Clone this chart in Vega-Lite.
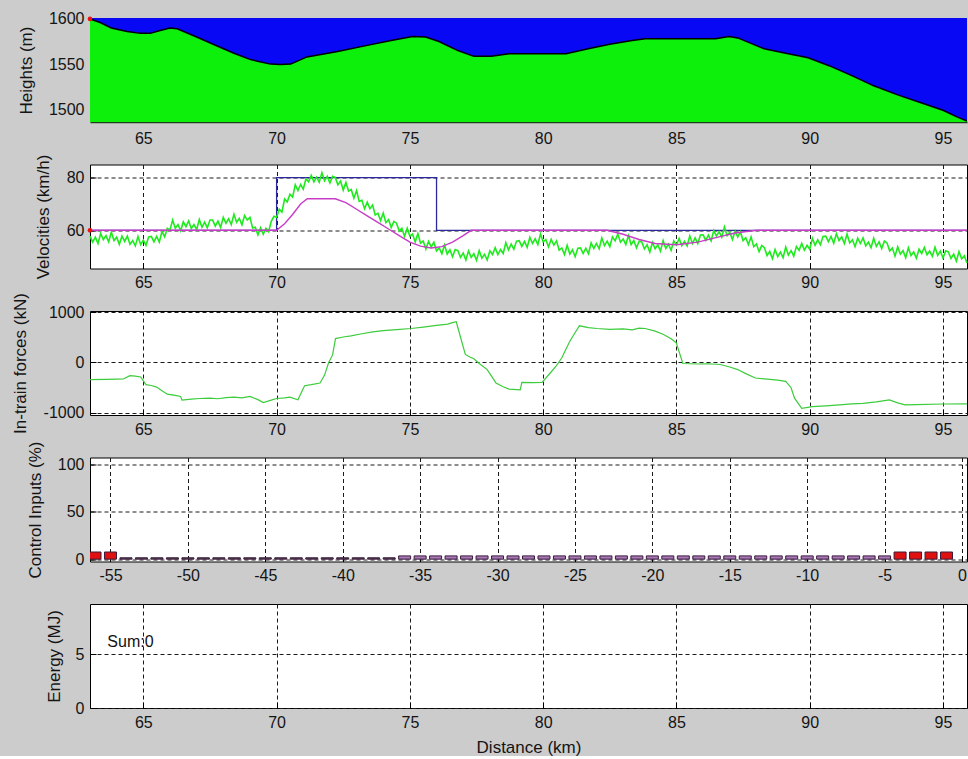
{
  "$schema": "https://vega.github.io/schema/vega-lite/v6.json",
  "background": "#cccccc",
  "padding": {"left": 10, "top": 10, "right": 0, "bottom": 0},
  "config": {
    "font": "Liberation Sans",
    "view": {"stroke": "#000000", "strokeWidth": 1, "fill": "#ffffff"},
    "axis": {
      "labelFont": "Liberation Sans", "labelFontSize": 16, "labelColor": "#141414",
      "titleFont": "Liberation Sans", "titleFontSize": 17, "titleFontWeight": "normal", "titleColor": "#141414",
      "domain": false, "grid": true, "gridColor": "#1a1a1a", "gridDash": [4, 3], "gridOpacity": 1, "gridWidth": 1,
      "ticks": true, "tickColor": "#000000", "tickSize": -6, "labelPadding": 12
    }
  },
  "datasets": {
    "terrain": [
      {"km": 63.0, "h": 1600}, {"km": 63.38, "h": 1596}, {"km": 63.8, "h": 1590}, {"km": 64.39, "h": 1586},
      {"km": 64.89, "h": 1584}, {"km": 65.26, "h": 1584}, {"km": 65.6, "h": 1587}, {"km": 66.0, "h": 1590},
      {"km": 66.27, "h": 1589}, {"km": 67.0, "h": 1580}, {"km": 67.77, "h": 1570}, {"km": 68.4, "h": 1562},
      {"km": 69.02, "h": 1555}, {"km": 69.77, "h": 1550}, {"km": 70.15, "h": 1549.5}, {"km": 70.53, "h": 1550},
      {"km": 71.14, "h": 1558}, {"km": 72.29, "h": 1564}, {"km": 73.45, "h": 1571}, {"km": 74.3, "h": 1576},
      {"km": 75.1, "h": 1580.5}, {"km": 75.59, "h": 1580}, {"km": 76.09, "h": 1575}, {"km": 76.8, "h": 1565},
      {"km": 77.4, "h": 1558.6}, {"km": 78.06, "h": 1558.6}, {"km": 78.72, "h": 1561.5}, {"km": 80.86, "h": 1561.5},
      {"km": 81.69, "h": 1567}, {"km": 82.5, "h": 1572}, {"km": 83.34, "h": 1576}, {"km": 83.83, "h": 1578},
      {"km": 86.47, "h": 1578}, {"km": 86.97, "h": 1580.5}, {"km": 87.3, "h": 1579}, {"km": 88.29, "h": 1567},
      {"km": 89.1, "h": 1562}, {"km": 89.94, "h": 1557}, {"km": 90.75, "h": 1548}, {"km": 91.6, "h": 1537},
      {"km": 92.4, "h": 1526}, {"km": 93.3, "h": 1516}, {"km": 94.2, "h": 1507}, {"km": 95.0, "h": 1499},
      {"km": 95.5, "h": 1492}, {"km": 95.9, "h": 1487}
    ],
    "speed": [
      {"km":63.0,"v":57.8},{"km":63.1,"v":55.5},{"km":63.2,"v":57.4},{"km":63.3,"v":55.0},{"km":63.4,"v":58.8},{"km":63.5,"v":56.5},{"km":63.6,"v":58.0},{"km":63.7,"v":55.6},{"km":63.8,"v":59.3},{"km":63.9,"v":56.1},
      {"km":64.0,"v":57.4},{"km":64.1,"v":54.7},{"km":64.2,"v":57.8},{"km":64.3,"v":55.8},{"km":64.4,"v":57.8},{"km":64.5,"v":54.7},{"km":64.6,"v":56.1},{"km":64.7,"v":54.1},{"km":64.8,"v":57.7},{"km":64.9,"v":54.6},
      {"km":65.0,"v":56.3},{"km":65.1,"v":54.3},{"km":65.2,"v":57.5},{"km":65.3,"v":57.7},{"km":65.4,"v":55.6},{"km":65.5,"v":57.7},{"km":65.6,"v":55.5},{"km":65.7,"v":59.6},{"km":65.8,"v":57.5},{"km":65.9,"v":60.8},
      {"km":66.0,"v":60.1},{"km":66.1,"v":63.9},{"km":66.2,"v":60.8},{"km":66.3,"v":62.2},{"km":66.4,"v":59.8},{"km":66.5,"v":63.2},{"km":66.6,"v":61.4},{"km":66.7,"v":63.6},{"km":66.8,"v":60.7},{"km":66.9,"v":62.2},
      {"km":67.0,"v":60.3},{"km":67.1,"v":64.1},{"km":67.2,"v":61.2},{"km":67.3,"v":63.1},{"km":67.4,"v":60.9},{"km":67.5,"v":63.9},{"km":67.6,"v":63.9},{"km":67.7,"v":61.6},{"km":67.8,"v":63.5},{"km":67.9,"v":61.1},
      {"km":68.0,"v":64.9},{"km":68.1,"v":62.7},{"km":68.2,"v":64.4},{"km":68.3,"v":62.2},{"km":68.4,"v":66.1},{"km":68.5,"v":63.1},{"km":68.6,"v":64.5},{"km":68.7,"v":62.1},{"km":68.8,"v":65.6},{"km":68.9,"v":63.9},
      {"km":69.0,"v":64.9},{"km":69.1,"v":60.9},{"km":69.2,"v":61.2},{"km":69.3,"v":58.3},{"km":69.4,"v":61.0},{"km":69.5,"v":58.5},{"km":69.6,"v":60.8},{"km":69.7,"v":59.5},{"km":69.8,"v":63.4},{"km":69.9,"v":65.3},
      {"km":70.0,"v":64.9},{"km":70.1,"v":68.0},{"km":70.2,"v":66.9},{"km":70.3,"v":71.9},{"km":70.4,"v":70.8},{"km":70.5,"v":73.7},{"km":70.6,"v":72.6},{"km":70.7,"v":77.3},{"km":70.8,"v":75.1},{"km":70.9,"v":77.4},
      {"km":71.0,"v":75.6},{"km":71.1,"v":79.5},{"km":71.2,"v":78.4},{"km":71.3,"v":80.9},{"km":71.4,"v":78.4},{"km":71.5,"v":80.2},{"km":71.6,"v":78.3},{"km":71.7,"v":81.9},{"km":71.8,"v":78.8},{"km":71.9,"v":80.5},
      {"km":72.0,"v":78.0},{"km":72.1,"v":80.5},{"km":72.2,"v":80.1},{"km":72.3,"v":77.3},{"km":72.4,"v":78.7},{"km":72.5,"v":75.3},{"km":72.6,"v":78.2},{"km":72.7,"v":74.9},{"km":72.8,"v":75.5},{"km":72.9,"v":72.2},
      {"km":73.0,"v":75.1},{"km":73.1,"v":71.0},{"km":73.2,"v":71.4},{"km":73.3,"v":68.2},{"km":73.4,"v":70.7},{"km":73.5,"v":68.2},{"km":73.6,"v":69.6},{"km":73.7,"v":65.8},{"km":73.8,"v":66.5},{"km":73.9,"v":63.7},
      {"km":74.0,"v":66.5},{"km":74.1,"v":62.9},{"km":74.2,"v":64.1},{"km":74.3,"v":61.1},{"km":74.4,"v":63.4},{"km":74.5,"v":62.7},{"km":74.6,"v":59.7},{"km":74.7,"v":60.8},{"km":74.8,"v":57.7},{"km":74.9,"v":60.8},
      {"km":75.0,"v":57.8},{"km":75.1,"v":58.6},{"km":75.2,"v":55.6},{"km":75.3,"v":58.8},{"km":75.4,"v":55.1},{"km":75.5,"v":55.9},{"km":75.6,"v":52.9},{"km":75.7,"v":55.8},{"km":75.8,"v":53.7},{"km":75.9,"v":55.5},
      {"km":76.0,"v":52.2},{"km":76.1,"v":53.3},{"km":76.2,"v":51.1},{"km":76.3,"v":54.4},{"km":76.4,"v":51.0},{"km":76.5,"v":52.6},{"km":76.6,"v":50.0},{"km":76.7,"v":52.7},{"km":76.8,"v":52.3},{"km":76.9,"v":49.7},
      {"km":77.0,"v":51.4},{"km":77.1,"v":48.7},{"km":77.2,"v":52.2},{"km":77.3,"v":49.7},{"km":77.4,"v":51.1},{"km":77.5,"v":48.6},{"km":77.6,"v":52.3},{"km":77.7,"v":49.4},{"km":77.8,"v":50.9},{"km":77.9,"v":48.7},
      {"km":78.0,"v":52.2},{"km":78.1,"v":50.8},{"km":78.2,"v":53.4},{"km":78.3,"v":50.8},{"km":78.4,"v":52.7},{"km":78.5,"v":51.2},{"km":78.6,"v":55.3},{"km":78.7,"v":52.6},{"km":78.8,"v":54.8},{"km":78.9,"v":52.8},
      {"km":79.0,"v":55.9},{"km":79.1,"v":56.1},{"km":79.2,"v":53.9},{"km":79.3,"v":55.8},{"km":79.4,"v":53.5},{"km":79.5,"v":57.3},{"km":79.6,"v":55.0},{"km":79.7,"v":56.8},{"km":79.8,"v":54.6},{"km":79.9,"v":58.6},
      {"km":80.0,"v":55.6},{"km":80.1,"v":56.5},{"km":80.2,"v":53.7},{"km":80.3,"v":56.6},{"km":80.4,"v":54.4},{"km":80.5,"v":56.0},{"km":80.6,"v":52.5},{"km":80.7,"v":53.3},{"km":80.8,"v":50.8},{"km":80.9,"v":54.3},
      {"km":81.0,"v":51.0},{"km":81.1,"v":52.6},{"km":81.2,"v":50.0},{"km":81.3,"v":53.2},{"km":81.4,"v":53.3},{"km":81.5,"v":51.2},{"km":81.6,"v":53.2},{"km":81.7,"v":51.1},{"km":81.8,"v":55.2},{"km":81.9,"v":53.1},
      {"km":82.0,"v":55.0},{"km":82.1,"v":53.0},{"km":82.2,"v":57.1},{"km":82.3,"v":54.2},{"km":82.4,"v":55.9},{"km":82.5,"v":53.8},{"km":82.6,"v":57.5},{"km":82.7,"v":56.0},{"km":82.8,"v":58.6},{"km":82.9,"v":55.5},
      {"km":83.0,"v":56.7},{"km":83.1,"v":54.6},{"km":83.2,"v":58.0},{"km":83.3,"v":54.6},{"km":83.4,"v":56.1},{"km":83.5,"v":53.4},{"km":83.6,"v":55.9},{"km":83.7,"v":55.6},{"km":83.8,"v":52.9},{"km":83.9,"v":54.5},
      {"km":84.0,"v":51.7},{"km":84.1,"v":55.4},{"km":84.2,"v":53.0},{"km":84.3,"v":54.5},{"km":84.4,"v":52.1},{"km":84.5,"v":56.1},{"km":84.6,"v":53.1},{"km":84.7,"v":54.7},{"km":84.8,"v":52.4},{"km":84.9,"v":56.0},
      {"km":85.0,"v":54.4},{"km":85.1,"v":56.9},{"km":85.2,"v":54.2},{"km":85.3,"v":55.8},{"km":85.4,"v":54.1},{"km":85.5,"v":57.9},{"km":85.6,"v":55.0},{"km":85.7,"v":57.1},{"km":85.8,"v":55.0},{"km":85.9,"v":58.2},
      {"km":86.0,"v":58.3},{"km":86.1,"v":56.2},{"km":86.2,"v":58.2},{"km":86.3,"v":56.0},{"km":86.4,"v":59.9},{"km":86.5,"v":57.8},{"km":86.6,"v":59.5},{"km":86.7,"v":57.4},{"km":86.8,"v":61.3},{"km":86.9,"v":58.0},
      {"km":87.0,"v":59.2},{"km":87.1,"v":56.5},{"km":87.2,"v":59.7},{"km":87.3,"v":57.5},{"km":87.4,"v":59.4},{"km":87.5,"v":56.1},{"km":87.6,"v":57.2},{"km":87.7,"v":54.6},{"km":87.8,"v":57.5},{"km":87.9,"v":53.8},
      {"km":88.0,"v":54.8},{"km":88.1,"v":51.9},{"km":88.2,"v":54.2},{"km":88.3,"v":53.4},{"km":88.4,"v":50.4},{"km":88.5,"v":52.0},{"km":88.6,"v":49.2},{"km":88.7,"v":52.7},{"km":88.8,"v":50.0},{"km":88.9,"v":51.8},
      {"km":89.0,"v":49.6},{"km":89.1,"v":53.6},{"km":89.2,"v":50.6},{"km":89.3,"v":52.3},{"km":89.4,"v":50.2},{"km":89.5,"v":53.8},{"km":89.6,"v":52.4},{"km":89.7,"v":55.0},{"km":89.8,"v":52.5},{"km":89.9,"v":54.3},
      {"km":90.0,"v":52.8},{"km":90.1,"v":56.9},{"km":90.2,"v":54.3},{"km":90.3,"v":56.4},{"km":90.4,"v":54.5},{"km":90.5,"v":57.7},{"km":90.6,"v":57.8},{"km":90.7,"v":55.7},{"km":90.8,"v":57.7},{"km":90.9,"v":55.1},
      {"km":91.0,"v":58.7},{"km":91.1,"v":56.1},{"km":91.2,"v":57.5},{"km":91.3,"v":55.0},{"km":91.4,"v":58.6},{"km":91.5,"v":55.2},{"km":91.6,"v":56.4},{"km":91.7,"v":53.8},{"km":91.8,"v":57.0},{"km":91.9,"v":55.0},
      {"km":92.0,"v":57.1},{"km":92.1,"v":54.1},{"km":92.2,"v":55.5},{"km":92.3,"v":53.4},{"km":92.4,"v":57.0},{"km":92.5,"v":53.9},{"km":92.6,"v":55.6},{"km":92.7,"v":53.1},{"km":92.8,"v":55.9},{"km":92.9,"v":55.2},
      {"km":93.0,"v":52.2},{"km":93.1,"v":53.3},{"km":93.2,"v":50.2},{"km":93.3,"v":53.7},{"km":93.4,"v":51.0},{"km":93.5,"v":52.3},{"km":93.6,"v":49.6},{"km":93.7,"v":53.4},{"km":93.8,"v":50.4},{"km":93.9,"v":51.8},
      {"km":94.0,"v":49.4},{"km":94.1,"v":52.8},{"km":94.2,"v":51.2},{"km":94.3,"v":53.5},{"km":94.4,"v":50.7},{"km":94.5,"v":52.1},{"km":94.6,"v":50.1},{"km":94.7,"v":53.6},{"km":94.8,"v":50.5},{"km":94.9,"v":52.1},
      {"km":95.0,"v":49.5},{"km":95.1,"v":52.2},{"km":95.2,"v":51.8},{"km":95.3,"v":49.3},{"km":95.4,"v":51.0},{"km":95.5,"v":48.3},{"km":95.6,"v":51.9},{"km":95.7,"v":49.2},{"km":95.8,"v":50.3},{"km":95.9,"v":47.6}
    ],
    "advice": [
      {"km": 63, "v": 60}, {"km": 70, "v": 60}, {"km": 70.3, "v": 62.5}, {"km": 70.6, "v": 66}, {"km": 70.9, "v": 70},
      {"km": 71.15, "v": 72}, {"km": 72.2, "v": 72}, {"km": 72.6, "v": 70.5}, {"km": 73.0, "v": 68}, {"km": 73.4, "v": 65.5},
      {"km": 73.8, "v": 63}, {"km": 74.2, "v": 60.5}, {"km": 74.6, "v": 58}, {"km": 75.0, "v": 55.5}, {"km": 75.4, "v": 54},
      {"km": 75.8, "v": 53.3}, {"km": 76.2, "v": 53.8}, {"km": 76.6, "v": 55.5}, {"km": 77.0, "v": 58}, {"km": 77.3, "v": 60},
      {"km": 82.4, "v": 60}, {"km": 83.0, "v": 58.5}, {"km": 83.6, "v": 56.5}, {"km": 84.2, "v": 55}, {"km": 85.0, "v": 54.5},
      {"km": 85.8, "v": 55.5}, {"km": 86.6, "v": 57.5}, {"km": 87.2, "v": 59}, {"km": 88.0, "v": 60}, {"km": 95.9, "v": 60}
    ],
    "limit": [
      {"km": 63, "v": 60}, {"km": 70, "v": 60}, {"km": 70, "v": 80}, {"km": 76, "v": 80}, {"km": 76, "v": 60}, {"km": 95.9, "v": 60}
    ],
    "grade": [
      {"km": 65.3, "km2": 70.0}, {"km": 75.1, "km2": 76.2}, {"km": 77.8, "km2": 78.5}, {"km": 79.5, "km2": 80.9},
      {"km": 82.2, "km2": 84.7}, {"km": 85.0, "km2": 88.0}, {"km": 90.0, "km2": 92.9}
    ],
    "force": [
      {"km":63.0,"f":-340},{"km":63.6,"f":-335},{"km":64.0,"f":-330},{"km":64.25,"f":-327},{"km":64.5,"f":-260},{"km":64.7,"f":-270},
      {"km":64.9,"f":-287},{"km":65.1,"f":-440},{"km":65.3,"f":-455},{"km":65.5,"f":-487},{"km":65.7,"f":-560},{"km":65.9,"f":-627},
      {"km":66.2,"f":-650},{"km":66.4,"f":-673},{"km":66.45,"f":-745},{"km":66.8,"f":-725},{"km":67.1,"f":-713},{"km":67.5,"f":-705},
      {"km":67.8,"f":-718},{"km":68.1,"f":-695},{"km":68.4,"f":-687},{"km":68.7,"f":-700},{"km":69.0,"f":-673},{"km":69.3,"f":-735},
      {"km":69.5,"f":-793},{"km":69.8,"f":-745},{"km":70.0,"f":-713},{"km":70.3,"f":-700},{"km":70.5,"f":-687},{"km":70.8,"f":-740},
      {"km":71.05,"f":-460},{"km":71.3,"f":-440},{"km":71.63,"f":-407},{"km":71.8,"f":-250},{"km":71.95,"f":-7},{"km":72.1,"f":150},
      {"km":72.21,"f":473},{"km":72.5,"f":505},{"km":72.79,"f":527},{"km":73.2,"f":570},{"km":73.61,"f":607},{"km":74.0,"f":630},
      {"km":74.5,"f":650},{"km":75.04,"f":673},{"km":75.5,"f":700},{"km":76.0,"f":735},{"km":76.42,"f":760},{"km":76.6,"f":790},
      {"km":76.74,"f":807},{"km":76.9,"f":500},{"km":77.08,"f":160},{"km":77.25,"f":110},{"km":77.4,"f":73},{"km":77.6,"f":-20},
      {"km":77.9,"f":-140},{"km":78.1,"f":-300},{"km":78.23,"f":-407},{"km":78.5,"f":-480},{"km":78.72,"f":-527},{"km":79.14,"f":-540},
      {"km":79.2,"f":-393},{"km":79.6,"f":-400},{"km":79.96,"f":-393},{"km":80.29,"f":-193},{"km":80.5,"f":-60},{"km":80.7,"f":93},
      {"km":81.0,"f":420},{"km":81.36,"f":727},{"km":81.7,"f":690},{"km":82.02,"f":673},{"km":82.5,"f":655},{"km":83.0,"f":665},
      {"km":83.34,"f":647},{"km":83.6,"f":680},{"km":83.83,"f":673},{"km":84.2,"f":620},{"km":84.5,"f":560},{"km":84.8,"f":470},
      {"km":84.99,"f":393},{"km":85.24,"f":-20},{"km":85.8,"f":-30},{"km":86.2,"f":-25},{"km":86.64,"f":-40},{"km":87.0,"f":-90},
      {"km":87.3,"f":-140},{"km":87.6,"f":-220},{"km":87.96,"f":-307},{"km":88.4,"f":-330},{"km":88.8,"f":-350},{"km":89.1,"f":-373},
      {"km":89.3,"f":-500},{"km":89.43,"f":-707},{"km":89.7,"f":-907},{"km":90.1,"f":-873},{"km":90.6,"f":-860},{"km":91.0,"f":-845},
      {"km":91.58,"f":-820},{"km":92.0,"f":-810},{"km":92.5,"f":-780},{"km":92.99,"f":-740},{"km":93.3,"f":-800},{"km":93.57,"f":-840},
      {"km":94.0,"f":-835},{"km":95.0,"f":-822},{"km":95.9,"f":-820}
    ],
    "control": [
      {"pos":-56,"val":7.5,"mode":"traction"},{"pos":-55,"val":7.5,"mode":"traction"},
      {"pos":-54,"val":1.4,"mode":"coast"},{"pos":-53,"val":1.4,"mode":"coast"},{"pos":-52,"val":1.4,"mode":"coast"},{"pos":-51,"val":1.4,"mode":"coast"},
      {"pos":-50,"val":1.4,"mode":"coast"},{"pos":-49,"val":1.4,"mode":"coast"},{"pos":-48,"val":1.4,"mode":"coast"},{"pos":-47,"val":1.4,"mode":"coast"},
      {"pos":-46,"val":1.4,"mode":"coast"},{"pos":-45,"val":1.4,"mode":"coast"},{"pos":-44,"val":1.4,"mode":"coast"},{"pos":-43,"val":1.4,"mode":"coast"},
      {"pos":-42,"val":1.4,"mode":"coast"},{"pos":-41,"val":1.4,"mode":"coast"},{"pos":-40,"val":1.4,"mode":"coast"},{"pos":-39,"val":1.4,"mode":"coast"},
      {"pos":-38,"val":1.4,"mode":"coast"},{"pos":-37,"val":1.4,"mode":"coast"},
      {"pos":-36,"val":3.4,"mode":"cruise"},{"pos":-35,"val":3.4,"mode":"cruise"},{"pos":-34,"val":3.4,"mode":"cruise"},{"pos":-33,"val":3.4,"mode":"cruise"},
      {"pos":-32,"val":3.4,"mode":"cruise"},{"pos":-31,"val":3.4,"mode":"cruise"},{"pos":-30,"val":3.4,"mode":"cruise"},{"pos":-29,"val":3.4,"mode":"cruise"},
      {"pos":-28,"val":3.4,"mode":"cruise"},{"pos":-27,"val":3.4,"mode":"cruise"},{"pos":-26,"val":3.4,"mode":"cruise"},{"pos":-25,"val":3.4,"mode":"cruise"},
      {"pos":-24,"val":3.4,"mode":"cruise"},{"pos":-23,"val":3.4,"mode":"cruise"},{"pos":-22,"val":3.4,"mode":"cruise"},{"pos":-21,"val":3.4,"mode":"cruise"},
      {"pos":-20,"val":3.4,"mode":"cruise"},{"pos":-19,"val":3.4,"mode":"cruise"},{"pos":-18,"val":3.4,"mode":"cruise"},{"pos":-17,"val":3.4,"mode":"cruise"},
      {"pos":-16,"val":3.4,"mode":"cruise"},{"pos":-15,"val":3.4,"mode":"cruise"},{"pos":-14,"val":3.4,"mode":"cruise"},{"pos":-13,"val":3.4,"mode":"cruise"},
      {"pos":-12,"val":3.4,"mode":"cruise"},{"pos":-11,"val":3.4,"mode":"cruise"},{"pos":-10,"val":3.4,"mode":"cruise"},{"pos":-9,"val":3.4,"mode":"cruise"},
      {"pos":-8,"val":3.4,"mode":"cruise"},{"pos":-7,"val":3.4,"mode":"cruise"},{"pos":-6,"val":3.4,"mode":"cruise"},{"pos":-5,"val":3.4,"mode":"cruise"},
      {"pos":-4,"val":7.5,"mode":"traction"},{"pos":-3,"val":7.5,"mode":"traction"},{"pos":-2,"val":7.5,"mode":"traction"},{"pos":-1,"val":7.5,"mode":"traction"}
    ]
  },
  "bounds": "flush",
  "spacing": 42.5,
  "vconcat": [
    {
      "width": 877,
      "height": 104,
      "view": {"fill": "#0808f4", "stroke": null},
      "encoding": {
        "x": {"field": "km", "type": "quantitative",
              "scale": {"domain": [63, 95.9], "nice": false, "zero": false},
              "axis": {"values": [65, 70, 75, 80, 85, 90, 95], "title": null, "grid": false, "ticks": false, "labelPadding": 8,
                       "domain": true, "domainColor": "#1d3d1d", "domainWidth": 1.5, "labelExpr": "'' + datum.value"}},
        "y": {"field": "h", "type": "quantitative",
              "scale": {"domain": [1486, 1601], "nice": false, "zero": false},
              "axis": {"values": [1500, 1550, 1600], "title": "Heights (m)", "grid": false, "ticks": false, "labelPadding": 6,
                       "labelExpr": "'' + datum.value",
                       "titleX": -64, "titleY": 52, "titleAlign": "center", "titleBaseline": "middle", "titleAngle": 270}}
      },
      "layer": [
        {"data": {"name": "terrain"}, "mark": {"type": "area", "color": "#0cf00c", "clip": true},
         "encoding": {"y2": {"datum": 1486}}},
        {"data": {"name": "terrain"}, "mark": {"type": "line", "color": "#000000", "strokeWidth": 1.5, "clip": true}},
        {"data": {"values": [{"km": 63, "h": 1600}]}, "mark": {"type": "point", "filled": true, "color": "#ee1111", "size": 22, "opacity": 1}}
      ]
    },
    {
      "width": 877,
      "height": 104,
      "encoding": {
        "x": {"field": "km", "type": "quantitative",
              "scale": {"domain": [63, 95.9], "nice": false, "zero": false},
              "axis": {"values": [65, 70, 75, 80, 85, 90, 95], "title": null, "labelExpr": "'' + datum.value"}},
        "y": {"field": "v", "type": "quantitative",
              "scale": {"domain": [45.5, 85], "nice": false, "zero": false},
              "axis": {"values": [60, 80], "title": "Velocities (km/h)",
                       "titleX": -47, "titleY": 52, "titleAlign": "center", "titleBaseline": "middle", "titleAngle": 270}}
      },
      "layer": [
        {"data": {"name": "grade"}, "mark": {"type": "rule", "color": "#b0b0b0", "strokeWidth": 3},
         "encoding": {"x2": {"field": "km2"}, "y": {"datum": 46.1}}},
        {"data": {"name": "limit"}, "mark": {"type": "line", "color": "#2a2a9c", "strokeWidth": 1.3},
         "encoding": {"order": {"value": null}}},
        {"data": {"name": "speed"}, "mark": {"type": "line", "color": "#1eea1e", "strokeWidth": 1.6}},
        {"data": {"name": "advice"}, "mark": {"type": "line", "color": "#c83cc8", "strokeWidth": 1.4}},
        {"data": {"values": [{"km": 63, "v": 60}]}, "mark": {"type": "point", "filled": true, "color": "#ee1111", "size": 22, "opacity": 1}}
      ]
    },
    {
      "width": 877,
      "height": 104,
      "data": {"name": "force"},
      "mark": {"type": "line", "color": "#3ccc3c", "strokeWidth": 1.2},
      "encoding": {
        "x": {"field": "km", "type": "quantitative",
              "scale": {"domain": [63, 95.9], "nice": false, "zero": false},
              "axis": {"values": [65, 70, 75, 80, 85, 90, 95], "title": null, "labelExpr": "'' + datum.value"}},
        "y": {"field": "f", "type": "quantitative",
              "scale": {"domain": [-1040, 1020], "nice": false, "zero": false},
              "axis": {"values": [-1000, 0, 1000], "title": "In-train forces (kN)", "labelExpr": "'' + datum.value",
                       "titleX": -70, "titleY": 52, "titleAlign": "center", "titleBaseline": "middle", "titleAngle": 270}}
      }
    },
    {
      "width": 877,
      "height": 104,
      "data": {"name": "control"},
      "mark": {"type": "bar", "width": 12, "stroke": "#3a1a3a", "strokeWidth": 1, "clip": true},
      "encoding": {
        "x": {"field": "pos", "type": "quantitative",
              "scale": {"domain": [-56, 0], "nice": false, "zero": false},
              "axis": {"values": [-55, -50, -45, -40, -35, -30, -25, -20, -15, -10, -5, 0], "title": null,
                       "labelFlush": true, "labelExpr": "'' + datum.value"}},
        "y": {"field": "val", "type": "quantitative",
              "scale": {"domain": [-2.5, 107], "nice": false, "zero": false},
              "axis": {"values": [0, 50, 100], "title": "Control Inputs (%)",
                       "titleX": -55, "titleY": 52, "titleAlign": "center", "titleBaseline": "middle", "titleAngle": 270}},
        "y2": {"datum": 0},
        "color": {"field": "mode", "type": "nominal",
                  "scale": {"domain": ["traction", "coast", "cruise"], "range": ["#e01010", "#5a4658", "#a878b8"]},
                  "legend": null}
      }
    },
    {
      "width": 877,
      "height": 104,
      "data": {"values": [{"km": 63.65, "e": 6.15, "label": "Sum:0"}]},
      "mark": {"type": "text", "align": "left", "baseline": "middle", "fontSize": 16, "color": "#111111", "font": "Liberation Sans"},
      "encoding": {
        "x": {"field": "km", "type": "quantitative",
              "scale": {"domain": [63, 95.9], "nice": false, "zero": false},
              "axis": {"values": [65, 70, 75, 80, 85, 90, 95], "title": "Distance (km)", "labelExpr": "'' + datum.value",
                       "titleY": 39, "titleBaseline": "middle"}},
        "y": {"field": "e", "type": "quantitative",
              "scale": {"domain": [0, 9.7], "nice": false, "zero": false},
              "axis": {"values": [0, 5], "title": "Energy (MJ)",
                       "titleX": -36, "titleY": 52, "titleAlign": "center", "titleBaseline": "middle", "titleAngle": 270}},
        "text": {"field": "label"}
      }
    }
  ]
}
